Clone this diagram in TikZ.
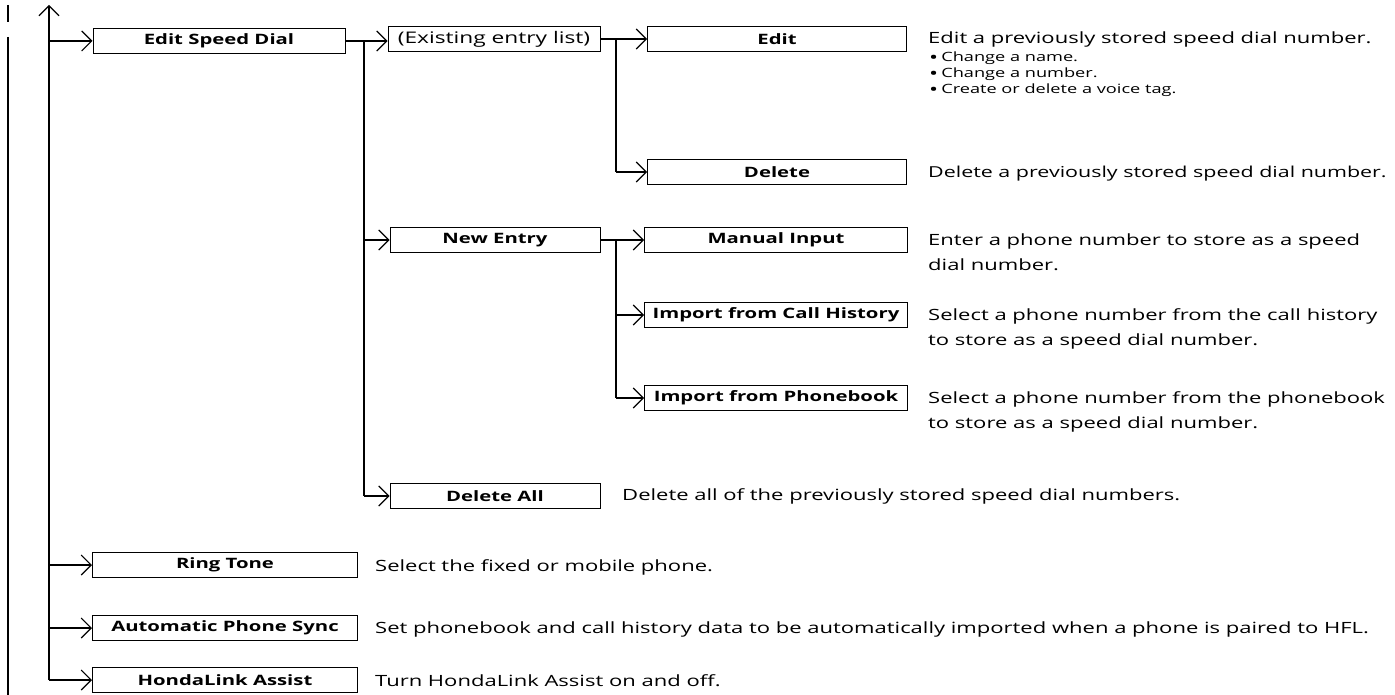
\documentclass[tikz,border=0pt]{standalone}
\usepackage{fontspec}
\setmainfont{Open Sans}[FakeStretch=1.42]
\usetikzlibrary{arrows.meta}
\begin{document}
\begin{tikzpicture}[x=1pt,y=-1pt,
  menubox/.style={draw,line width=1pt,minimum height=25pt,inner sep=0pt,font=\bfseries\fontsize{14.3}{16}\selectfont},
  plainbox/.style={menubox,font=\fontsize{16}{18}\selectfont},
  desc/.style={anchor=base west,inner sep=0pt,font=\fontsize{15.5}{24.5}\selectfont,align=left},
  small/.style={anchor=base west,inner sep=0pt,font=\fontsize{12.8}{14}\selectfont},
  conn/.style={line width=1.8pt},
  arr/.style={conn,-{Straight Barb[length=10pt,width=20pt,line width=1.1pt]}}
]
\useasboundingbox (0,0) rectangle (1395,695);
\newcommand{\bigbul}{\raisebox{-1.8pt}{\fontsize{17}{14}\selectfont\textbullet}\hspace{3pt}}

% boxes
\node[menubox,minimum width=252pt] (esd) at (219,41) {Edit Speed Dial};
\node[plainbox,minimum width=212pt] (exl) at (494,39) {(Existing entry list)};
\node[menubox,minimum width=259pt] (edit) at (777,39) {Edit};
\node[menubox,minimum width=259pt] (del) at (777,172) {Delete};
\node[menubox,minimum width=210pt] (new) at (495,240) {New Entry};
\node[menubox,minimum width=263pt] (man) at (776,240) {Manual Input};
\node[menubox,minimum width=263pt] (ich) at (776,315) {Import from Call History};
\node[menubox,minimum width=263pt] (ipb) at (776,398) {Import from Phonebook};
\node[menubox,minimum width=210pt] (dall) at (495,496) {Delete All};
\node[menubox,minimum width=265pt] (ring) at (225,565) {Ring Tone};
\node[menubox,minimum width=265pt] (aps) at (225,628) {Automatic Phone Sync};
\node[menubox,minimum width=265pt] (hla) at (225,680) {HondaLink Assist};

% left bars
\draw[line width=2.5pt] (8,5) -- (8,22);
\draw[line width=2.5pt] (8,37) -- (8,695);

% trunk
\coordinate (tbot) at (49,680);
\coordinate (ttop) at (49,5);
\draw[arr] (tbot) -- (ttop);
\coordinate (t1) at (49,41);
\coordinate (t2) at (49,565);
\coordinate (t3) at (49,628);
\draw[arr] (t1) -- (esd.west);
\draw[arr] (t2) -- (ring.west);
\draw[arr] (t3) -- (aps.west);
\draw[arr] (tbot) -- (hla.west);

% spine 2
\coordinate (s2a) at (364,41);
\coordinate (s2b) at (364,240);
\coordinate (s2c) at (364,496);
\draw[arr] (esd.east) -- (exl.west |- esd.east);
\draw[conn] (s2a) -- (s2c);
\draw[arr] (s2b) -- (new.west);
\draw[arr] (s2c) -- (dall.west);

% spine 3
\coordinate (s3a) at (616,39);
\coordinate (s3b) at (616,172);
\draw[arr] (exl.east) -- (edit.west);
\draw[conn] (s3a) -- (s3b);
\draw[arr] (s3b) -- (del.west);
\coordinate (s4a) at (616,240);
\coordinate (s4b) at (616,315);
\coordinate (s4c) at (616,398);
\draw[arr] (new.east) -- (man.west);
\draw[conn] (s4a) -- (s4c);
\draw[arr] (s4b) -- (ich.west);
\draw[arr] (s4c) -- (ipb.west);

% descriptions
\node[desc] (dedit) at (928,44) {Edit a previously stored speed dial number.};
\node[small] (b1) at (929,62) {\bigbul Change a name.};
\node[small] (b2) at (929,78) {\bigbul Change a number.};
\node[small] (b3) at (929,94) {\bigbul Create or delete a voice tag.};
\node[desc,font=\fontsize{15.1}{24.5}\selectfont] (ddel) at (928,178) {Delete a previously stored speed dial number.};
\node[desc] (dman) at (928,270) {Enter a phone number to store as a speed\\dial number.};
\node[desc] (dich) at (928,345) {Select a phone number from the call history\\to store as a speed dial number.};
\node[desc] (dipb) at (928,428) {Select a phone number from the phonebook\\to store as a speed dial number.};
\node[desc] (ddall) at (622,500) {Delete all of the previously stored speed dial numbers.};
\node[desc] (dring) at (375,571) {Select the fixed or mobile phone.};
\node[desc] (daps) at (375,633) {Set phonebook and call history data to be automatically imported when a phone is paired to HFL.};
\node[desc] (dhla) at (375,686) {Turn HondaLink Assist on and off.};
\end{tikzpicture}
\end{document}
